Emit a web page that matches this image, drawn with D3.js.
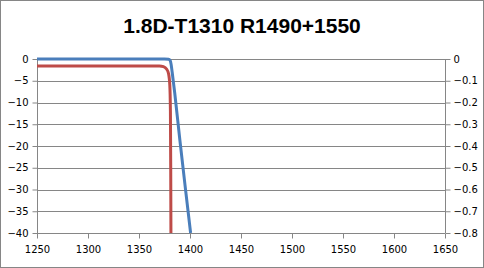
<!DOCTYPE html>
<html>
<head>
<meta charset="utf-8">
<script src="https://cdn.jsdelivr.net/npm/d3@7"></script>
<style>
	body { margin:0; background:#fff; }
	svg text { font-family:"DejaVu Sans", sans-serif; font-size:10px; fill:#000; }
	.axis path, .axis line { stroke:#868686; }
</style>
</head>
<body>
<svg id="chart" width="484" height="268"></svg>
<script>
// 데이터
var title = "1.8D-T1310 R1490+1550";
var xTicks = [1250, 1300, 1350, 1400, 1450, 1500, 1550, 1600, 1650];
var leftTicks = [0, -5, -10, -15, -20, -25, -30, -35, -40];
var rightTicks = [0, -0.1, -0.2, -0.3, -0.4, -0.5, -0.6, -0.7, -0.8];

// T1310 (right axis)
var blueX = [1250, 1300, 1350, 1375, 1379, 1380.5, 1381.5, 1382.5, 1385, 1390, 1395, 1400.6];
var blueY = [0, 0, 0, 0, -0.001, -0.006, -0.025, -0.06, -0.155, -0.37, -0.575, -0.8];

// R1490+1550 (left axis)
var redX = [1250, 1300, 1350, 1370, 1374, 1377, 1379, 1380.2, 1380.8, 1381.1, 1381.3];
var redY = [-1.6, -1.6, -1.6, -1.6, -1.75, -2.3, -3.4, -6, -12, -25, -40];

var svg = d3.select("#chart");
var width = 484, height = 268;
var margin = {left:37, right:39, top:59, bottom:35};

svg.append("rect")
	.attr("x", 0.5).attr("y", 0.5)
	.attr("width", width-1).attr("height", height-1)
	.attr("fill", "#fff").attr("stroke", "#868686");

svg.append("text")
	.attr("x", 242).attr("y", 33)
	.attr("text-anchor", "middle")
	.style("font-family", "'Liberation Sans', Arial, sans-serif")
	.style("font-size", "21px")
	.style("font-weight", "bold")
	.text(title);

var x = d3.scaleLinear().domain([1250, 1650]).range([margin.left, width-margin.right]);
var yL = d3.scaleLinear().domain([-40, 0]).range([height-margin.bottom, margin.top]);
var yR = d3.scaleLinear().domain([-0.8, 0]).range([height-margin.bottom, margin.top]);

// gridlines
svg.append("g").selectAll("line")
	.data(leftTicks).enter().append("line")
	.attr("x1", margin.left).attr("x2", width-margin.right)
	.attr("y1", function(d){ return Math.round(yL(d))+0.5; })
	.attr("y2", function(d){ return Math.round(yL(d))+0.5; })
	.attr("stroke", "#868686");

svg.append("g").attr("class", "axis")
	.attr("transform", "translate(0," + (height-margin.bottom+0.5) + ")")
	.call(d3.axisBottom(x).tickValues(xTicks).tickSize(5).tickPadding(7).tickFormat(d3.format("d")))
	.call(function(g){ g.select(".domain").remove(); })
	.append("line")
	.attr("x1", margin.left).attr("x2", width-margin.right)
	.attr("stroke", "#868686");

svg.append("g").attr("class", "axis")
	.attr("transform", "translate(" + (margin.left+0.5) + ",0)")
	.call(d3.axisLeft(yL).tickValues(leftTicks).tickSize(5).tickPadding(4).tickFormat(d3.format("d")))
	.call(function(g){ g.select(".domain").attr("d", "M0," + margin.top + "V" + (height-margin.bottom)); });

svg.append("g").attr("class", "axis")
	.attr("transform", "translate(" + (width-margin.right+0.5) + ",0)")
	.call(d3.axisRight(yR).tickValues(rightTicks).tickSize(5).tickPadding(3).tickFormat(function(d){ return d === 0 ? "0" : d3.format(".1f")(d); }))
	.call(function(g){ g.select(".domain").attr("d", "M0," + margin.top + "V" + (height-margin.bottom)); });

svg.selectAll(".axis text").style("font-family", "'DejaVu Sans', sans-serif").style("font-size", "10px");

var redLine = d3.line()
	.x(function(d){ return x(d[0]); })
	.y(function(d){ return yL(d[1]); })
	.curve(d3.curveMonotoneX);
var blueLine = d3.line()
	.x(function(d){ return x(d[0]); })
	.y(function(d){ return yR(d[1]); })
	.curve(d3.curveMonotoneX);

svg.append("path")
	.datum(d3.zip(blueX, blueY))
	.attr("d", blueLine)
	.attr("fill", "none").attr("stroke", "#4a7ebb").attr("stroke-width", 3);

svg.append("path")
	.datum(d3.zip(redX, redY))
	.attr("d", redLine)
	.attr("fill", "none").attr("stroke", "#be4b48").attr("stroke-width", 3);
</script>
</body>
</html>
